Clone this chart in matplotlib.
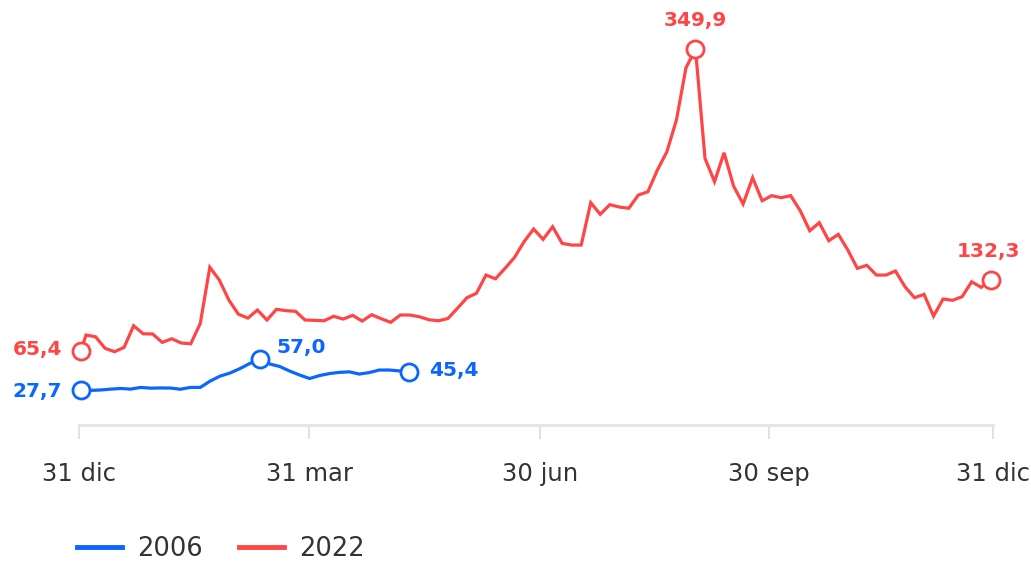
import numpy as np
import matplotlib
matplotlib.use("Agg")
import matplotlib.pyplot as plt
from matplotlib.lines import Line2D

# ---- data -------------------------------------------------------------
series_labels = ["2006", "2022"]

blue_values = [27.7, 27.8, 28.2, 29.0, 29.6, 29.0, 30.6, 29.9, 30.1, 30.0,
               28.9, 30.6, 30.6, 36.6, 41.3, 44.2, 48.4, 53.3, 57.0, 52.7,
               50.3, 46.0, 42.3, 39.0, 41.8, 43.7, 44.8, 45.3, 43.2, 44.6,
               47.0, 47.0, 46.2, 45.4]

red_values = [65.4,
              80.0, 78.4, 67.5, 64.3, 68.4, 88.8, 81.2, 81.0, 73.1, 76.5,
              72.5, 71.8, 91.0, 144.0, 131.9, 113.0, 99.7, 96.0, 103.6, 94.2,
              104.3, 103.0, 102.4, 94.2, 93.9, 93.5, 97.7, 95.1, 98.6, 93.2,
              99.2, 95.4, 92.0, 98.9, 98.9, 97.3, 94.5, 93.5, 95.6, 105.2,
              115.2, 119.4, 136.6, 133.1, 142.9, 153.3, 168.1, 180.0, 170.3, 182.2,
              166.5, 164.9, 164.9, 204.9, 193.9, 203.0, 200.8, 199.6, 212.1, 215.2,
              235.7, 253.0, 282.9, 332.0, 349.9, 246.7, 224.7, 252.0, 220.6, 203.6,
              228.4, 206.7, 211.5, 209.6, 211.5, 197.3, 178.4, 186.0, 169.0, 175.0,
              160.2, 142.9, 145.8, 136.6, 136.6, 140.4, 125.6, 115.2, 118.4, 97.9,
              114.0, 112.8, 116.2, 130.3, 125.0, 132.3]

# sampling dates (days since 31 dic, regular sampling)
blue_days = np.linspace(0.8, 131.8, len(blue_values))
red_days = np.concatenate([[0.8], np.linspace(2.8, 364.1, len(red_values) - 1)])

tick_positions = [0, 92, 184, 275.6, 365]
tick_labels = ["31 dic", "31 mar", "30 jun", "30 sep", "31 dic"]

BLUE = "#0a66ff"
RED = "#ff4545"
TEXT = "#333333"

plt.rcParams['font.family'] = ['DejaVu Sans']

fig = plt.figure(figsize=(10.31, 5.61), dpi=100)
ax = fig.add_axes([0, 0.2429, 1, 0.7571])
ax.set_xlim(-31.55, 380.2)
ax.set_ylim(-4.6, 396.1)

for days, vals, col in [(blue_days, blue_values, BLUE), (red_days, red_values, RED)]:
    ax.plot(days, vals, color=col, lw=2.3, solid_joinstyle='miter', zorder=3)

def mark(days, vals, idx, col, dx, dy, ha, va):
    ax.plot(days[idx], vals[idx], 'o', ms=12.3, mfc='white', mec=col, mew=2.0, zorder=4)
    txt = f"{vals[idx]:.1f}".replace('.', ',')
    ax.annotate(txt, (days[idx], vals[idx]), xytext=(dx, dy), textcoords='offset pixels',
                ha=ha, va=va, color=col, fontsize=14.5, fontweight='bold', zorder=5)

bi_max = int(np.argmax(blue_values))
ri_max = int(np.argmax(red_values))
mark(blue_days, blue_values, 0, BLUE, -19, -1, 'right', 'center')
mark(blue_days, blue_values, bi_max, BLUE, 17, 12, 'left', 'center')
mark(blue_days, blue_values, len(blue_values) - 1, BLUE, 20, 1, 'left', 'center')
mark(red_days, red_values, 0, RED, -19, 1, 'right', 'center')
mark(red_days, red_values, ri_max, RED, 0, 28, 'center', 'center')
mark(red_days, red_values, len(red_values) - 1, RED, -2, 28, 'center', 'center')

for s in ['top', 'right', 'left']:
    ax.spines[s].set_visible(False)
ax.spines['bottom'].set_color('#e6e6e6')
ax.spines['bottom'].set_linewidth(2.2)
ax.spines['bottom'].set_bounds(tick_positions[0], tick_positions[-1])
ax.set_yticks([])
ax.set_xticks(tick_positions)
ax.set_xticklabels(tick_labels)
ax.tick_params(axis='x', direction='out', length=10, width=1.2, color='#dcdcdc',
               pad=17, labelsize=17.5, labelcolor=TEXT)

handles = [Line2D([], [], color=BLUE, lw=3.5), Line2D([], [], color=RED, lw=3.5)]
fig.legend(handles, series_labels, loc='center left',
           bbox_to_anchor=(77 / 1031, 1 - 549 / 561), ncol=2, frameon=False,
           handlelength=1.75, handletextpad=0.6, columnspacing=1.4,
           fontsize=18.5, borderpad=0, borderaxespad=0, labelcolor=TEXT)

fig.savefig("out.png", dpi=100)
